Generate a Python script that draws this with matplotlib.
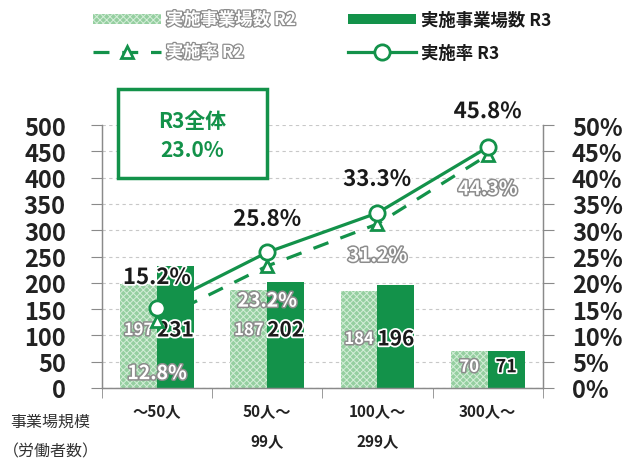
import matplotlib
matplotlib.use("Agg")
import matplotlib.pyplot as plt
import matplotlib.patheffects as pe
from matplotlib.patches import Rectangle
from matplotlib.font_manager import FontProperties
import numpy as np

plt.rcParams['font.family'] = ['Noto Sans CJK JP', 'DejaVu Sans']
plt.rcParams['hatch.linewidth'] = 0.7

categories = ["～50人", "50人～\n99人", "100人～\n299人", "300人～"]
count_r2 = [197, 187, 184, 70]
count_r3 = [231, 202, 196, 71]
rate_r2 = [12.8, 23.2, 31.2, 44.3]
rate_r3 = [15.2, 25.8, 33.3, 45.8]
left_ticks = [0, 50, 100, 150, 200, 250, 300, 350, 400, 450, 500]
right_ticks = [0, 5, 10, 15, 20, 25, 30, 35, 40, 45, 50]
overall_label = "R3全体\n23.0%"

GREEN = '#13924a'
LIGHT = '#95cfa0'
GRAY = '#8a8a8a'

fig = plt.figure(figsize=(6.29, 4.64), dpi=100)
ax = fig.add_axes([0.162, 0.162, 0.701, 0.566])
ax2 = ax.twinx()

x = np.arange(len(categories))
w = 0.335
ax.bar(x - w / 2, count_r2, width=w, color=LIGHT, hatch='xxxxx', edgecolor='#d4eed9',
       linewidth=0, zorder=2, label='実施事業場数 R2')
ax.bar(x + w / 2, count_r3, width=w, color=GREEN, linewidth=0, zorder=2, label='実施事業場数 R3')

ax.set_xlim(-0.5, 3.5)
ax.set_ylim(0, 500)
ax2.set_ylim(0, 50)
ax.set_yticks(left_ticks)
ax2.set_yticks(right_ticks)
ax2.set_yticklabels([f"{t}%" for t in right_ticks])
ax.set_xticks(x)
ax.set_xticklabels(categories, fontsize=11, fontweight='bold', linespacing=2.1, va='top')
ax.set_xticks(np.arange(-0.5, 4, 1), minor=True)
ax.tick_params(axis='x', which='major', length=0, pad=10, colors='#222222')
ax.tick_params(axis='x', which='minor', length=7, color=GRAY, direction='out')
ax.tick_params(axis='y', length=8, color=GRAY, pad=18, labelsize=17, labelcolor='#222222')
ax2.tick_params(axis='y', length=8, color=GRAY, pad=13, labelsize=17, labelcolor='#222222')
for lab in ax.get_yticklabels() + ax2.get_yticklabels():
    lab.set_fontweight('bold')

for a in (ax, ax2):
    a.spines['top'].set_visible(False)
    for s in ['left', 'right', 'bottom']:
        a.spines[s].set_color(GRAY)
        a.spines[s].set_linewidth(0.9)

ax.yaxis.grid(True, linestyle=(0, (3, 3)), color='#c8c8c8', linewidth=0.8, zorder=0)
ax.set_axisbelow(True)

ax2.plot(x, rate_r2, linestyle=(0, (5, 4)), color=GREEN, linewidth=2.3, marker='^',
         markersize=9, markerfacecolor='white', markeredgecolor=GREEN, markeredgewidth=2,
         zorder=3, label='実施率 R2')
ax2.plot(x, rate_r3, linestyle='-', color=GREEN, linewidth=2.3, marker='o',
         markersize=11, markerfacecolor='white', markeredgecolor=GREEN, markeredgewidth=2,
         zorder=4, label='実施率 R3')

faded = [pe.withStroke(linewidth=2.2, foreground='#8c8c8c')]
dark = [pe.withStroke(linewidth=2.5, foreground='white')]

# bar value labels
label_y = [110, 110, 93, 40]
for i in range(len(categories)):
    ax.text(x[i] - w / 2, label_y[i], str(count_r2[i]),
            ha='center', va='center', fontsize=12, fontweight='bold', color='white',
            path_effects=faded, zorder=6)
    ax.text(x[i] + w / 2, label_y[i], str(count_r3[i]),
            ha='center', va='center', fontsize=15 if i < 3 else 13, fontweight='bold',
            color='#1a1a1a', path_effects=dark, zorder=6)

# rate labels
r2_pos = [2.7, 16.5, 25.1, 37.8]
r3_pos = [21.0, 32.1, 39.7, 52.6]
for i in range(len(categories)):
    ax2.text(x[i], r2_pos[i], f"{rate_r2[i]}%", ha='center', va='center', fontsize=14,
             fontweight='bold', color='white', path_effects=faded, zorder=6)
    ax2.text(x[i], r3_pos[i], f"{rate_r3[i]}%", ha='center', va='center', fontsize=16,
             fontweight='bold', color='#1a1a1a', path_effects=dark, zorder=6, clip_on=False)

# overall box
fig.patches.append(Rectangle((118 / 629, 1 - 179 / 464), 149 / 629, 89 / 464,
                             transform=fig.transFigure, fill=True, facecolor='white',
                             edgecolor=GREEN, linewidth=2.5, zorder=10))
fig.text(192 / 629, 1 - 136 / 464, overall_label, ha='center', va='center', fontsize=15,
         fontweight='bold', color=GREEN, linespacing=1.45, zorder=11)

# axis caption
fig.text(10 / 629, 1 - 422 / 464, "事業場規模", ha='left', va='center', fontsize=11.5, color='#333333')
fig.text(3 / 629, 1 - 452 / 464, "（労働者数）", ha='left', va='center', fontsize=11.5, color='#333333')

# legend
h1, l1 = ax.get_legend_handles_labels()
h2, l2 = ax2.get_legend_handles_labels()
handles = [h1[0], h2[0], h1[1], h2[1]]
labels = [l1[0], l2[0], l1[1], l2[1]]
leg = fig.legend(handles, labels, loc='upper left', bbox_to_anchor=(93 / 629, 1 - 12 / 464), ncol=2,
                 frameon=False, handlelength=3.9, handleheight=0.5,
                 handletextpad=0.3, columnspacing=3.0, labelspacing=0.85, borderpad=0,
                 borderaxespad=0, prop=FontProperties(family=['Noto Sans CJK JP', 'DejaVu Sans'],
                                                      weight='bold', size=12.5))
for t, lab in zip(leg.get_texts(), labels):
    if 'R2' in lab:
        t.set_color('white')
        t.set_path_effects([pe.withStroke(linewidth=1.8, foreground='#8c8c8c')])
    else:
        t.set_color('#1a1a1a')

fig.savefig('out.png', dpi=100)
